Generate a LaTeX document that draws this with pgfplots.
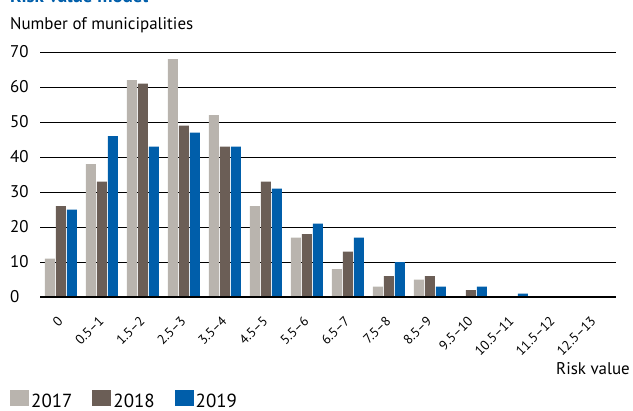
\documentclass[border=0pt]{standalone}
\usepackage{fontspec}
\setmainfont{PT Sans}
\usepackage{pgfplots}
\pgfplotsset{compat=1.18}
\definecolor{c17}{HTML}{B9B4AE}
\definecolor{c18}{HTML}{6B5E56}
\definecolor{c19}{HTML}{005EAA}
\begin{document}
\begin{tikzpicture}[x=1bp,y=1bp]
\useasboundingbox (0,0) rectangle (633,410);
\node[anchor=base west, text=c19, font=\bfseries\fontsize{19}{22}\selectfont, inner sep=0] at (10,407) {Risk value model};
\node[anchor=base west, inner sep=0, font=\fontsize{17}{20}\selectfont] at (10,381) {Number of municipalities};
\node[anchor=base east, inner sep=0, font=\fontsize{17}{20}\selectfont] at (630,36) {Risk value};
\begin{axis}[
  at={(40bp,113bp)}, anchor=south west,
  scale only axis, width=576bp, height=245bp,
  xmin=-0.51, xmax=13.54, ymin=0, ymax=70,
  ytick={0,10,...,70},
  xtick={0,...,13},
  xticklabels={0,0.5\textendash1,1.5\textendash2,2.5\textendash3,3.5\textendash4,4.5\textendash5,5.5\textendash6,6.5\textendash7,7.5\textendash8,8.5\textendash9,9.5\textendash10,10.5\textendash11,11.5\textendash12,12.5\textendash13},
  axis line style={draw=none},
  tick style={draw=none},
  major tick length=0pt,
  ymajorgrids, grid style={black, line width=1bp},
  /pgf/number format/assume math mode=true,
  yticklabel style={font=\fontsize{17}{20}\selectfont, anchor=west, inner sep=0pt, xshift=-30bp},
  xticklabel style={font=\fontsize{13.5}{16}\selectfont, inner sep=0pt, xshift=-4bp, yshift=-18bp, rotate=45, anchor=north east},
  ybar, bar width=0.244,
  legend columns=3,
  legend style={at={(rel axis cs:-0.052,-0.465)}, anchor=south west, draw=none, fill=none, inner sep=0pt,
    font=\fontsize{19}{22}\selectfont,
    /tikz/every even column/.append style={column sep=18bp}},
  legend image code/.code={\fill[#1] (0bp,-5bp) rectangle (19bp,11bp);},
]
\addplot[fill=c17, draw=none, bar shift=-0.268] coordinates {(0,11) (1,38) (2,62) (3,68) (4,52) (5,26) (6,17) (7,8) (8,3) (9,5) (10,0) (11,0) (12,0) (13,0)};
\addplot[fill=c18, draw=none, bar shift=0] coordinates {(0,26) (1,33) (2,61) (3,49) (4,43) (5,33) (6,18) (7,13) (8,6) (9,6) (10,2) (11,0) (12,0) (13,0)};
\addplot[fill=c19, draw=none, bar shift=0.268] coordinates {(0,25) (1,46) (2,43) (3,47) (4,43) (5,31) (6,21) (7,17) (8,10) (9,3) (10,3) (11,1) (12,0) (13,0)};
\legend{2017,2018,2019}
\draw[black, line width=3bp] (rel axis cs:0,0) -- (rel axis cs:1,0);
\end{axis}
\end{tikzpicture}
\end{document}
